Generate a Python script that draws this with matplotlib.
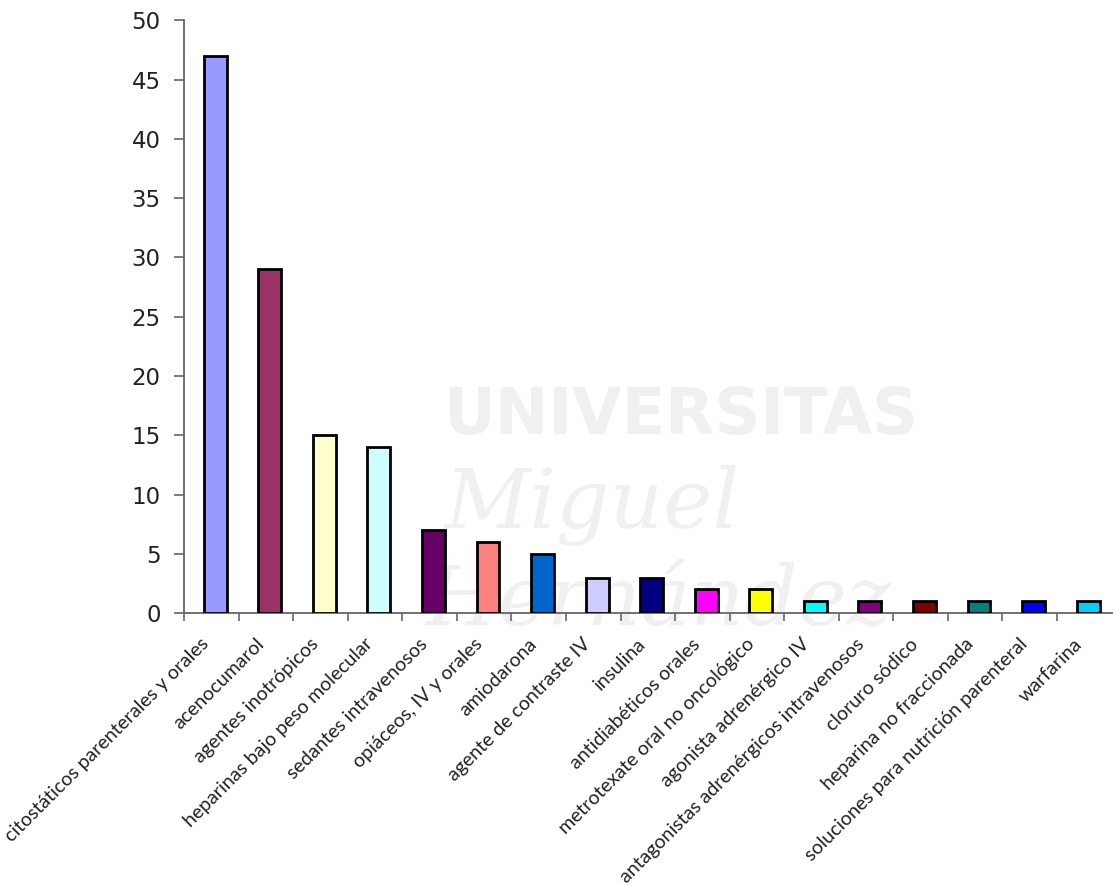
import numpy as np
import matplotlib.pyplot as plt

categories = [
    "citostáticos parenterales y orales",
    "acenocumarol",
    "agentes inotrópicos",
    "heparinas bajo peso molecular",
    "sedantes intravenosos",
    "opiáceos, IV y orales",
    "amiodarona",
    "agente de contraste IV",
    "insulina",
    "antidiabéticos orales",
    "metrotexate oral no oncológico",
    "agonista adrenérgico IV",
    "antagonistas adrenérgicos intravenosos",
    "cloruro sódico",
    "heparina no fraccionada",
    "soluciones para nutrición parenteral",
    "warfarina",
]
values = [47, 29, 15, 14, 7, 6, 5, 3, 3, 2, 2, 1, 1, 1, 1, 1, 1]
colors = [
    "#9999FF", "#993366", "#FFFFCC", "#CCFFFF", "#660066", "#FF8080",
    "#0066CC", "#CCCCFF", "#000080", "#FF00FF", "#FFFF00", "#00FFFF",
    "#800080", "#800000", "#008080", "#0000FF", "#00CCFF",
]
y_ticks = [0, 5, 10, 15, 20, 25, 30, 35, 40, 45, 50]

fig = plt.figure(figsize=(11.16, 8.86), dpi=100)
ax = fig.add_axes([0.165, 0.308, 0.831, 0.669])
ax.set_zorder(1)
ax.patch.set_alpha(0)

# faint background watermark, kept under the axes
wm = dict(color="#f0f0f0", zorder=0, ha="center", va="center")
fig.text(0.61, 0.53, "UNIVERSITAS", fontsize=46, fontweight="bold",
         family="DejaVu Sans", **wm)
fig.text(0.53, 0.43, "Miguel", fontsize=60, style="italic",
         family="DejaVu Serif", **wm)
fig.text(0.59, 0.32, "Hernández", fontsize=60, style="italic",
         family="DejaVu Serif", **wm)

x = np.arange(len(categories))
ax.bar(x + 0.07, values, width=0.42, color=colors, edgecolor="black",
       linewidth=2.0, zorder=3)

ax.set_xlim(-0.5, len(categories) - 0.5)
ax.set_ylim(0, 50)
ax.set_yticks(y_ticks)
ax.set_yticklabels([str(v) for v in y_ticks], fontsize=16.5, color="#222222")

# group boundaries carry the tick marks, labels sit just left of each bar
ax.set_xticks(x - 0.5, minor=False)
ax.set_xticklabels([])
ax.set_xticks(x - 0.2, minor=True)
ax.set_xticklabels(categories, minor=True, rotation=45, ha="right",
                   rotation_mode="anchor", fontsize=14, family="Lato",
                   color="#222222")
ax.tick_params(axis="x", which="minor", length=0, pad=16)
ax.tick_params(axis="x", which="major", length=6, direction="out",
               color="#666666", width=1.2)
ax.tick_params(axis="y", length=7, color="#666666", width=1.2, pad=10)

for s in ["top", "right"]:
    ax.spines[s].set_visible(False)
for s in ["left", "bottom"]:
    ax.spines[s].set_color("#666666")
    ax.spines[s].set_linewidth(1.3)

fig.savefig("out.png", dpi=100)
